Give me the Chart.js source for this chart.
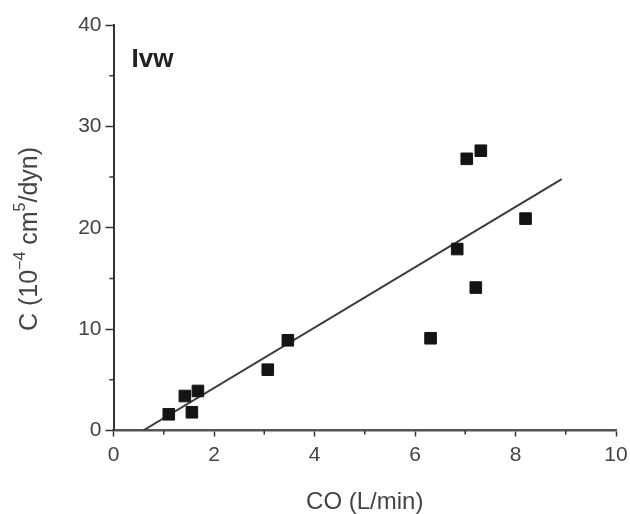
<!DOCTYPE html>
<html>
<head>
<meta charset="utf-8">
<script src="https://cdn.jsdelivr.net/npm/chart.js@4/dist/chart.umd.min.js"></script>
<style>
  html, body { margin: 0; padding: 0; background: #fff; }
  #wrap { width: 630px; height: 514px; }
</style>
</head>
<body>
<div id="wrap"><canvas id="c" width="630" height="514"></canvas></div>
<script>
// Data
const coValues = [1.10, 1.42, 1.68, 1.56, 3.07, 3.47, 6.31, 6.84, 7.03, 7.21, 7.31, 8.20];
const cValues  = [1.6, 3.4, 3.9, 1.8, 6.0, 8.9, 9.1, 17.9, 26.8, 14.1, 27.6, 20.9];
const fitX = [0.59, 8.92];
const fitY = [0, 24.8];
const xMinorTicks = [1, 3, 5, 7, 9];
const yMinorTicks = [5, 15, 25, 35];
const panelLabel = 'Ivw';
const xTitle = 'CO (L/min)';
const yTitleParts = [['C (10', false], ['\u22124', true], [' cm', false], ['5', true], ['/dyn)', false]];

const FONT = '"Liberation Sans", Arial, Helvetica, sans-serif';

const points = coValues.map((x, i) => ({ x: x, y: cValues[i] }));
const fitLine = fitX.map((x, i) => ({ x: x, y: fitY[i] }));

const extras = {
  id: 'extras',
  afterDraw(chart) {
    const ctx = chart.ctx;
    const xs = chart.scales.x, ys = chart.scales.y;
    const area = chart.chartArea;
    ctx.save();
    // minor ticks
    ctx.strokeStyle = '#333';
    ctx.lineWidth = 1.5;
    ctx.beginPath();
    xMinorTicks.forEach(v => {
      const px = xs.getPixelForValue(v);
      ctx.moveTo(px, area.bottom);
      ctx.lineTo(px, area.bottom + 4);
    });
    yMinorTicks.forEach(v => {
      const py = ys.getPixelForValue(v);
      ctx.moveTo(area.left, py);
      ctx.lineTo(area.left - 4, py);
    });
    ctx.stroke();
    // panel label
    ctx.fillStyle = '#222';
    ctx.font = 'bold 26px ' + FONT;
    ctx.textBaseline = 'alphabetic';
    ctx.textAlign = 'left';
    ctx.fillText(panelLabel, area.left + 18, area.top + 42);
    // y title with superscripts
    ctx.translate(30, 239);
    ctx.rotate(-Math.PI / 2);
    const big = '25px ' + FONT, small = '16px ' + FONT;
    let total = 0;
    yTitleParts.forEach(([t, sup]) => { ctx.font = sup ? small : big; total += ctx.measureText(t).width; });
    let cx = -total / 2;
    ctx.fillStyle = '#444';
    ctx.textBaseline = 'middle';
    yTitleParts.forEach(([t, sup]) => {
      ctx.font = sup ? small : big;
      ctx.fillText(t, cx, sup ? -9 : 0);
      cx += ctx.measureText(t).width;
    });
    ctx.restore();
  }
};

new Chart(document.getElementById('c'), {
  type: 'scatter',
  data: {
    datasets: [
      {
        label: 'data',
        data: points,
        pointStyle: 'rect',
        pointRadius: 8.2,
        pointHoverRadius: 8.2,
        backgroundColor: '#141414',
        borderColor: '#141414',
        borderWidth: 1
      },
      {
        label: 'fit',
        type: 'line',
        data: fitLine,
        showLine: true,
        pointRadius: 0,
        borderColor: '#3a3a3a',
        borderWidth: 2,
        fill: false
      }
    ]
  },
  options: {
    responsive: false,
    animation: false,
    devicePixelRatio: 1,
    layout: { padding: { top: 25, right: 0, bottom: 0, left: 0 } },
    plugins: { legend: { display: false }, tooltip: { enabled: false }, title: { display: false } },
    scales: {
      x: {
        type: 'linear',
        min: 0, max: 10,
        ticks: { stepSize: 2, color: '#444', font: { family: FONT, size: 21 }, padding: 6, maxRotation: 0 },
        grid: { display: true, drawOnChartArea: false, drawTicks: true, tickLength: 6, tickColor: '#333', tickWidth: 1.5 },
        border: { display: true, color: '#555', width: 2.5 },
        title: { display: true, text: xTitle, color: '#444', font: { family: FONT, size: 24 }, padding: { top: 0, bottom: -3 } },
        afterFit(scale) { scale.height = 83.5; scale.paddingRight = 14; }
      },
      y: {
        type: 'linear',
        min: 0, max: 40,
        ticks: { stepSize: 10, color: '#444', font: { family: FONT, size: 21 }, padding: 4 },
        grid: { display: true, drawOnChartArea: false, drawTicks: true, tickLength: 8, tickColor: '#333', tickWidth: 1.5 },
        border: { display: true, color: '#333', width: 2 },
        afterFit(scale) { scale.width = 113.5; }
      }
    }
  },
  plugins: [extras]
});
</script>
</body>
</html>
